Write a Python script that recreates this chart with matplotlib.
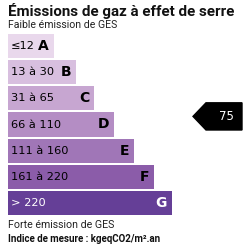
import matplotlib
matplotlib.use("Agg")
import matplotlib.pyplot as plt
from matplotlib.patches import Polygon

# Data
classes = ["A", "B", "C", "D", "E", "F", "G"]
ranges = ["≤12", "13 à 30", "31 à 65", "66 à 110", "111 à 160", "161 à 220", "> 220"]
bar_lengths = [46, 68, 86, 106, 126, 146, 164]
colors = ["#e9d8ec", "#d8bfdf", "#c7a6d1", "#b48dc4", "#a076b7", "#8b5ca9", "#653f97"]
text_colors = ["black"] * 6 + ["white"]
value = 75
value_label = "75"
title = "Émissions de gaz à effet de serre"
top_note = "Faible émission de GES"
bottom_note = "Forte émission de GES"
unit_note = "Indice de mesure : kgeqCO2/m².an"

W = H = 250
fig = plt.figure(figsize=(2.5, 2.5), dpi=100)

# text / overlay axes in pixel units
tax = fig.add_axes([0, 0, 1, 1])
tax.set_xlim(0, W)
tax.set_ylim(H, 0)
tax.axis("off")

# bars axes
top, bottom = 33, 216
ax = fig.add_axes([0, (H - bottom) / H, 1, (bottom - top) / H])
ax.set_xlim(0, W)
ax.set_ylim(len(classes) - 0.5, -0.5)
ax.axis("off")

left = 8
ax.barh(range(len(classes)), bar_lengths, left=left, height=0.92, color=colors)
for i, (c, r, L, tc) in enumerate(zip(classes, ranges, bar_lengths, text_colors)):
    ax.text(left + 3, i, r, va="center", ha="left", fontsize=8.2,
            family="DejaVu Sans", color=tc)
    ax.text(left + L - 5, i, c, va="center", ha="right", fontsize=10,
            family="DejaVu Sans", fontweight="bold", color=tc)

# value marker (class D)
row = 2.69
hh = 0.52
x0, xs, x1 = 193, 206, 242
poly = Polygon([(x0, row), (xs, row - hh), (x1, row - hh), (x1, row + hh), (xs, row + hh)],
               closed=True, color="black", transform=ax.transData)
ax.add_patch(poly)
ax.text((xs + x1) / 2 + 2, row, value_label, ha="center", va="center",
        color="white", fontsize=8.5, family="DejaVu Sans")

tax.text(8, 16, title, fontsize=10.9, family="Roboto", fontweight="bold",
         ha="left", va="baseline", color="#111111")
tax.text(8, 28, top_note, fontsize=7.6, family="Roboto", ha="left", va="baseline",
         color="#222222")
tax.text(8, 228, bottom_note, fontsize=7.7, family="Roboto", ha="left", va="baseline",
         color="#222222")
tax.text(8, 242, unit_note, fontsize=7.0, family="Roboto", fontweight="bold",
         ha="left", va="baseline", color="#111111")

fig.savefig("out.png", dpi=100)
